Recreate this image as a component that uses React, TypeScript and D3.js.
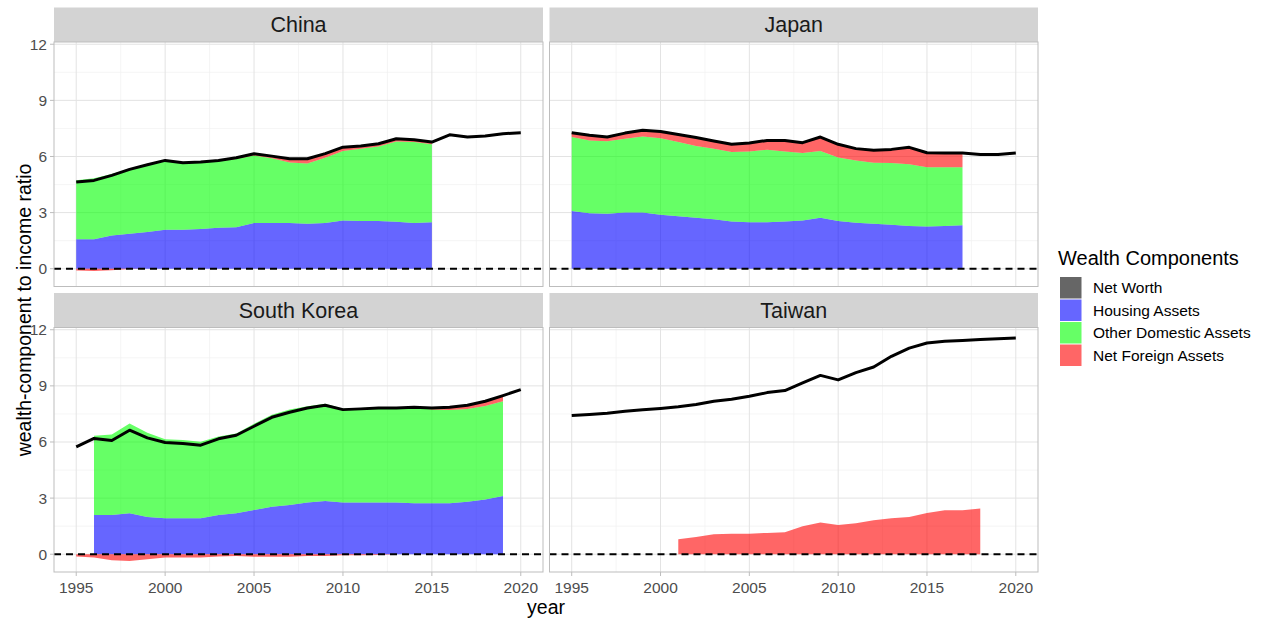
import React from "react";
import * as d3 from "d3";

const years = [1995, 1996, 1997, 1998, 1999, 2000, 2001, 2002, 2003, 2004, 2005, 2006, 2007, 2008, 2009, 2010, 2011, 2012, 2013, 2014, 2015, 2016, 2017, 2018, 2019, 2020];

const chinaNetWorth = [4.63, 4.72, 4.99, 5.31, 5.56, 5.79, 5.67, 5.70, 5.79, 5.93, 6.15, 6.02, 5.88, 5.88, 6.15, 6.50, 6.56, 6.68, 6.95, 6.90, 6.77, 7.16, 7.04, 7.09, 7.22, 7.27];
const chinaHousing = [1.58, 1.58, 1.78, 1.87, 1.96, 2.08, 2.08, 2.12, 2.19, 2.22, 2.44, 2.44, 2.44, 2.41, 2.45, 2.58, 2.55, 2.55, 2.51, 2.44, 2.48, null, null, null, null, null];
const chinaOther = [3.15, 3.26, 3.29, 3.46, 3.59, 3.69, 3.56, 3.55, 3.56, 3.65, 3.61, 3.46, 3.24, 3.22, 3.48, 3.72, 3.86, 3.99, 4.29, 4.33, 4.17, null, null, null, null, null];
const chinaForeign = [-0.10, -0.12, -0.08, -0.02, 0.01, 0.02, 0.03, 0.03, 0.04, 0.06, 0.10, 0.12, 0.20, 0.25, 0.22, 0.20, 0.15, 0.14, 0.15, 0.13, 0.12, null, null, null, null, null];

const japanNetWorth = [7.27, 7.13, 7.04, 7.25, 7.40, 7.34, 7.17, 7.01, 6.83, 6.65, 6.72, 6.86, 6.86, 6.74, 7.04, 6.65, 6.42, 6.33, 6.38, 6.49, 6.20, 6.19, 6.19, 6.11, 6.11, 6.19];
const japanHousing = [3.08, 2.97, 2.94, 3.01, 3.00, 2.89, 2.81, 2.73, 2.64, 2.53, 2.49, 2.49, 2.53, 2.58, 2.73, 2.55, 2.46, 2.41, 2.35, 2.28, 2.26, 2.28, 2.32, null, null, null];
const japanOther = [3.96, 3.89, 3.87, 3.94, 4.07, 4.09, 3.96, 3.83, 3.78, 3.71, 3.78, 3.87, 3.74, 3.60, 3.56, 3.39, 3.33, 3.26, 3.30, 3.30, 3.17, 3.15, 3.11, null, null, null];
const japanForeign = [0.23, 0.27, 0.23, 0.30, 0.33, 0.36, 0.40, 0.45, 0.41, 0.41, 0.45, 0.50, 0.59, 0.56, 0.75, 0.71, 0.63, 0.66, 0.73, 0.91, 0.77, 0.76, 0.76, null, null, null];

const koreaNetWorth = [5.74, 6.19, 6.08, 6.63, 6.22, 5.97, 5.92, 5.83, 6.17, 6.36, 6.84, 7.32, 7.59, 7.82, 7.96, 7.73, 7.77, 7.82, 7.82, 7.86, 7.82, 7.86, 7.96, 8.18, 8.48, 8.80];
const koreaHousing = [null, 2.10, 2.10, 2.19, 1.99, 1.92, 1.92, 1.92, 2.10, 2.19, 2.36, 2.54, 2.63, 2.76, 2.84, 2.76, 2.76, 2.76, 2.76, 2.73, 2.73, 2.73, 2.81, 2.93, 3.11, null];
const koreaOther = [null, 4.23, 4.30, 4.80, 4.50, 4.23, 4.18, 4.09, 4.19, 4.26, 4.62, 4.92, 5.10, 5.15, 5.21, 5.02, 5.06, 5.10, 5.06, 5.11, 5.01, 4.98, 4.95, 5.00, 5.07, null];
const koreaForeign = [-0.12, -0.18, -0.32, -0.36, -0.27, -0.18, -0.18, -0.18, -0.12, -0.09, -0.14, -0.14, -0.14, -0.09, -0.09, -0.05, -0.05, -0.04, 0.00, 0.02, 0.08, 0.15, 0.20, 0.25, 0.30, null];

const taiwanNetWorth = [7.41, 7.47, 7.54, 7.64, 7.72, 7.79, 7.88, 8.00, 8.18, 8.28, 8.44, 8.64, 8.75, 9.16, 9.56, 9.32, 9.71, 10.01, 10.58, 11.02, 11.29, 11.38, 11.43, 11.48, 11.52, 11.56];
const taiwanHousing = years.map(() => null);
const taiwanOther = years.map(() => null);
const taiwanForeign = [null, null, null, null, null, null, 0.80, 0.92, 1.07, 1.10, 1.10, 1.14, 1.17, 1.49, 1.69, 1.56, 1.65, 1.81, 1.92, 1.99, 2.21, 2.35, 2.35, 2.44, null, null];

const countries = ["China", "Japan", "South Korea", "Taiwan"];
const yTicks = [0, 3, 6, 9, 12];
const yMinor = [1.5, 4.5, 7.5, 10.5];
const xTicks = [1995, 2000, 2005, 2010, 2015, 2020];
const xMinor = [1997.5, 2002.5, 2007.5, 2012.5, 2017.5];
const legendItems = ["Net Worth", "Housing Assets", "Other Domestic Assets", "Net Foreign Assets"];
const legendColors = ["#000000", "#0000FF", "#00FF00", "#FF0000"];

const panelData = [
  { name: countries[0], nw: chinaNetWorth, h: chinaHousing, o: chinaOther, f: chinaForeign },
  { name: countries[1], nw: japanNetWorth, h: japanHousing, o: japanOther, f: japanForeign },
  { name: countries[2], nw: koreaNetWorth, h: koreaHousing, o: koreaOther, f: koreaForeign },
  { name: countries[3], nw: taiwanNetWorth, h: taiwanHousing, o: taiwanOther, f: taiwanForeign },
];

const FONT = "'Liberation Sans', Arial, sans-serif";
const colX = [[54, 543], [549.5, 1038]];
const rowY = [[42, 286.5], [327.5, 572]];
const stripH = 34.5;

function Panel({ d, col, row }: any) {
  const [x0, x1] = colX[col];
  const [y0, y1] = rowY[row];
  const x = d3.scaleLinear().domain([1993.75, 2021.25]).range([x0, x1]);
  const y = d3.scaleLinear().domain([-0.95, 12.12]).range([y1, y0]);
  const rows = years.map((yr, i) => {
    const h = d.h[i];
    const o = d.o[i];
    const f = d.f[i];
    const base = h != null && o != null ? h + o : 0;
    return { yr, h, o, f, base, nw: d.nw[i] };
  });
  const blue = d3.area<any>().defined((r) => r.h != null).x((r) => x(r.yr)).y0(() => y(0)).y1((r) => y(r.h));
  const green = d3.area<any>().defined((r) => r.h != null && r.o != null).x((r) => x(r.yr)).y0((r) => y(r.h)).y1((r) => y(r.h + r.o));
  const redPos = d3.area<any>().defined((r) => r.f != null).x((r) => x(r.yr)).y0((r) => y(r.base)).y1((r) => y(r.base + Math.max(r.f, 0)));
  const redNeg = d3.area<any>().defined((r) => r.f != null).x((r) => x(r.yr)).y0((r) => y(Math.min(r.f, 0))).y1(() => y(0));
  const line = d3.line<any>().x((r) => x(r.yr)).y((r) => y(r.nw));
  const clipId = `clip-${col}-${row}`;
  return (
    <g>
      <defs>
        <clipPath id={clipId}>
          <rect x={x0} y={y0} width={x1 - x0} height={y1 - y0} />
        </clipPath>
      </defs>
      <rect x={x0} y={y0 - stripH} width={x1 - x0} height={stripH} fill="#D3D3D3" />
      <text x={(x0 + x1) / 2} y={y0 - stripH / 2 + 7.5} textAnchor="middle" fontSize={21.5} fill="#1A1A1A" fontFamily={FONT}>{d.name}</text>
      <rect x={x0} y={y0} width={x1 - x0} height={y1 - y0} fill="#FFFFFF" />
      {yMinor.map((v) => (
        <line key={"ym" + v} x1={x0} x2={x1} y1={y(v)} y2={y(v)} stroke="#F0F0F0" strokeWidth={0.7} />
      ))}
      {xMinor.map((v) => (
        <line key={"xm" + v} x1={x(v)} x2={x(v)} y1={y0} y2={y1} stroke="#F0F0F0" strokeWidth={0.7} />
      ))}
      {yTicks.map((v) => (
        <line key={"y" + v} x1={x0} x2={x1} y1={y(v)} y2={y(v)} stroke="#E3E3E3" strokeWidth={1} />
      ))}
      {xTicks.map((v) => (
        <line key={"x" + v} x1={x(v)} x2={x(v)} y1={y0} y2={y1} stroke="#E3E3E3" strokeWidth={1} />
      ))}
      <g clipPath={`url(#${clipId})`}>
        <path d={blue(rows) || ""} fill="#0000FF" fillOpacity={0.6} />
        <path d={green(rows) || ""} fill="#00FF00" fillOpacity={0.6} />
        <path d={redPos(rows) || ""} fill="#FF0000" fillOpacity={0.6} />
        <path d={redNeg(rows) || ""} fill="#FF0000" fillOpacity={0.6} />
        <line x1={x0} x2={x1} y1={y(0)} y2={y(0)} stroke="#000" strokeWidth={2} strokeDasharray="7,5" />
        <path d={line(rows) || ""} fill="none" stroke="#000" strokeWidth={3} strokeLinejoin="round" />
      </g>
      <rect x={x0} y={y0} width={x1 - x0} height={y1 - y0} fill="none" stroke="#BDBDBD" strokeWidth={1} />
      {col === 0 &&
        yTicks.map((v) => (
          <g key={"yt" + v}>
            <line x1={x0 - 4} x2={x0} y1={y(v)} y2={y(v)} stroke="#BDBDBD" strokeWidth={1} />
            <text x={x0 - 7} y={y(v) + 5.5} textAnchor="end" fontSize={15.5} fill="#4D4D4D" fontFamily={FONT}>{v}</text>
          </g>
        ))}
      {row === 1 &&
        xTicks.map((v) => (
          <g key={"xt" + v}>
            <line x1={x(v)} x2={x(v)} y1={y1} y2={y1 + 4} stroke="#BDBDBD" strokeWidth={1} />
            <text x={x(v)} y={y1 + 20.5} textAnchor="middle" fontSize={15.5} fill="#4D4D4D" fontFamily={FONT}>{v}</text>
          </g>
        ))}
    </g>
  );
}

export default function App() {
  return (
    <svg width={1269} height={620} style={{ position: "absolute", left: 0, top: 0, background: "#fff" }}>
      <rect x={0} y={0} width={1269} height={620} fill="#fff" />
      {panelData.map((d, i) => (
        <Panel key={d.name} d={d} col={i % 2} row={Math.floor(i / 2)} />
      ))}
      <text x={546} y={614} textAnchor="middle" fontSize={19.5} fill="#000" fontFamily={FONT}>year</text>
      <text transform="translate(24,310) rotate(-90)" textAnchor="middle" fontSize={19.5} fill="#000" fontFamily={FONT} dy="0.35em">wealth-component to income ratio</text>
      <text x={1058} y={265} fontSize={20} fill="#000" fontFamily={FONT}>Wealth Components</text>
      {legendItems.map((name, i) => (
        <g key={name}>
          <rect x={1060} y={277 + i * 22.5} width={21.5} height={21.5} fill={legendColors[i]} fillOpacity={0.6} />
          <text x={1093} y={277 + i * 22.5 + 16} fontSize={15.5} fill="#000" fontFamily={FONT}>{name}</text>
        </g>
      ))}
    </svg>
  );
}
